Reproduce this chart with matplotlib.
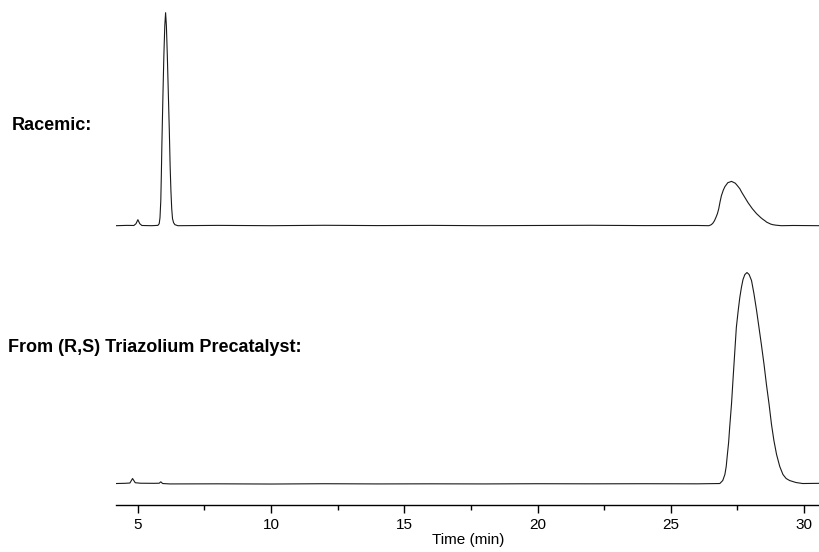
"""
HPLC chromatograms: racemic standard vs. product from the (R,S) triazolium precatalyst.
Saves out.png (820x552).
"""
import matplotlib
matplotlib.use("Agg")
import matplotlib.pyplot as plt
from matplotlib import font_manager
from matplotlib.ticker import MultipleLocator

# ─── Data (signal in arbitrary units) ────────────────────────────────────────
racemic_time = [4.18, 4.6, 4.85, 4.93, 5.0, 5.07, 5.15, 5.5, 5.75, 5.80, 5.83,
                5.86, 5.88, 5.90, 5.94, 5.975, 6.01, 6.04, 6.07, 6.105, 6.14,
                6.18, 6.21, 6.24, 6.27, 6.30, 6.34, 6.39, 6.5, 8.0,
                10.0, 12.0, 14.0, 16.0, 18.0, 20.0, 22.0, 24.0, 26.0, 26.43,
                26.52, 26.58, 26.64, 26.69, 26.75, 26.80, 26.85, 26.90, 26.97,
                27.03, 27.14, 27.28, 27.42, 27.50, 27.59, 27.66, 27.74, 27.82,
                27.90, 27.98, 28.06, 28.14, 28.22, 28.30, 28.38, 28.45, 28.53,
                28.60, 28.68, 28.75, 28.83, 28.95, 29.15, 29.6, 30.6]
racemic_signal = [0.0, 0.3, 0.2, 2.0, 6.0, 2.0, 0.2, 0.0, 0.3, 2.0, 8.0,
                  25.0, 50.0, 80.0, 130.0, 170.0, 200.0, 213.0, 200.0, 170.0, 135.0,
                  95.0, 60.0, 35.0, 17.0, 7.0, 3.0, 1.0, 0.0, 0.3,
                  0.0, 0.4, 0.1, 0.3, 0.0, 0.2, 0.4, 0.1, 0.2, 0.0,
                  1.0, 2.5, 5.0, 8.0, 12.0, 17.0, 24.0, 30.0, 35.5,
                  39.0, 43.0, 44.3, 42.5, 40.0, 37.0, 33.5, 30.0, 26.5,
                  23.0, 20.0, 17.0, 14.5, 12.0, 10.0, 8.0, 6.5, 5.0,
                  3.5, 2.5, 1.6, 1.0, 0.5, 0.0, 0.2, 0.0]

precat_time = [4.18, 4.5, 4.70, 4.80, 4.90, 5.1, 5.6, 5.80, 5.86, 5.93, 6.2,
               8.0, 10.0, 12.0, 14.0, 16.0, 18.0, 20.0, 22.0, 24.0, 26.0,
               26.84, 26.95, 27.03, 27.08, 27.12, 27.17, 27.21, 27.28, 27.34,
               27.40, 27.46, 27.53, 27.59, 27.65, 27.71, 27.78, 27.86, 27.94,
               28.03, 28.12, 28.22, 28.31, 28.40, 28.50, 28.59, 28.69, 28.78,
               28.87, 28.97, 29.09, 29.21, 29.33, 29.46, 29.70, 29.95, 30.6]
precat_signal = [0.0, 0.2, 0.5, 5.0, 0.8, 0.3, 0.2, 0.3, 1.7, 0.0, -0.4,
                 -0.3, -0.5, -0.2, -0.4, -0.3, -0.4, -0.2, -0.3, -0.2, -0.3,
                 0.0, 3.0, 9.0, 17.0, 28.0, 41.0, 56.0, 80.0, 106.0,
                 131.0, 156.0, 173.0, 186.0, 196.0, 204.0, 209.0, 211.0, 209.0,
                 203.0, 190.0, 173.0, 156.0, 139.0, 119.0, 99.0, 79.0, 59.0,
                 43.0, 29.0, 17.0, 9.0, 5.0, 3.0, 1.0, 0.0, 0.2]

labels = ["Racemic:", "From (R,S) Triazolium Precatalyst:"]
xticks_major = [5, 10, 15, 20, 25, 30]
x_label = "Time (min)"

# ─── Fonts ───────────────────────────────────────────────────────────────────
installed = {f.name for f in font_manager.fontManager.ttflist}
narrow = "Liberation Sans Narrow" if "Liberation Sans Narrow" in installed else "Liberation Sans"
plt.rcParams["font.family"] = ["Liberation Sans", "DejaVu Sans"]

LINE_KW = dict(color="#1a1a1a", linewidth=0.8)
XLIM = (4.18, 30.6)

fig = plt.figure(figsize=(8.2, 5.52), dpi=100)

# ─── Top trace: racemic ──────────────────────────────────────────────────────
ax_top = fig.add_axes([0.1415, 0.5743, 0.8585, 0.4112])
ax_top.plot(racemic_time, racemic_signal, **LINE_KW)
ax_top.set_xlim(*XLIM)
ax_top.set_ylim(-9.3, 217.7)
ax_top.axis("off")

# ─── Bottom trace: (R,S) precatalyst ────────────────────────────────────────
ax_bot = fig.add_axes([0.1415, 0.0851, 0.8585, 0.4402])
ax_bot.plot(precat_time, precat_signal, **LINE_KW)
ax_bot.set_xlim(*XLIM)
ax_bot.set_ylim(-21.5, 221.5)
for side in ["left", "right", "top"]:
    ax_bot.spines[side].set_visible(False)
ax_bot.spines["bottom"].set_linewidth(1.0)
ax_bot.set_yticks([])
ax_bot.set_xticks(xticks_major)
ax_bot.xaxis.set_minor_locator(MultipleLocator(2.5))
ax_bot.tick_params(axis="x", which="major", direction="out", length=6, width=1.0,
                   pad=3, labelsize=11)
ax_bot.tick_params(axis="x", which="minor", direction="out", length=3.5, width=1.0)
for lab in ax_bot.get_xticklabels():
    lab.set_family(narrow)
ax_bot.set_xlabel(x_label, fontsize=11, family=narrow, labelpad=1)

# ─── Trace labels ────────────────────────────────────────────────────────────
fig.text(12 / 820, 1 - 125 / 552, labels[0], fontsize=13, fontweight="bold",
         ha="left", va="center")
fig.text(8 / 820, 1 - 347 / 552, labels[1], fontsize=13, fontweight="bold",
         ha="left", va="center")

fig.savefig("out.png", dpi=100)
